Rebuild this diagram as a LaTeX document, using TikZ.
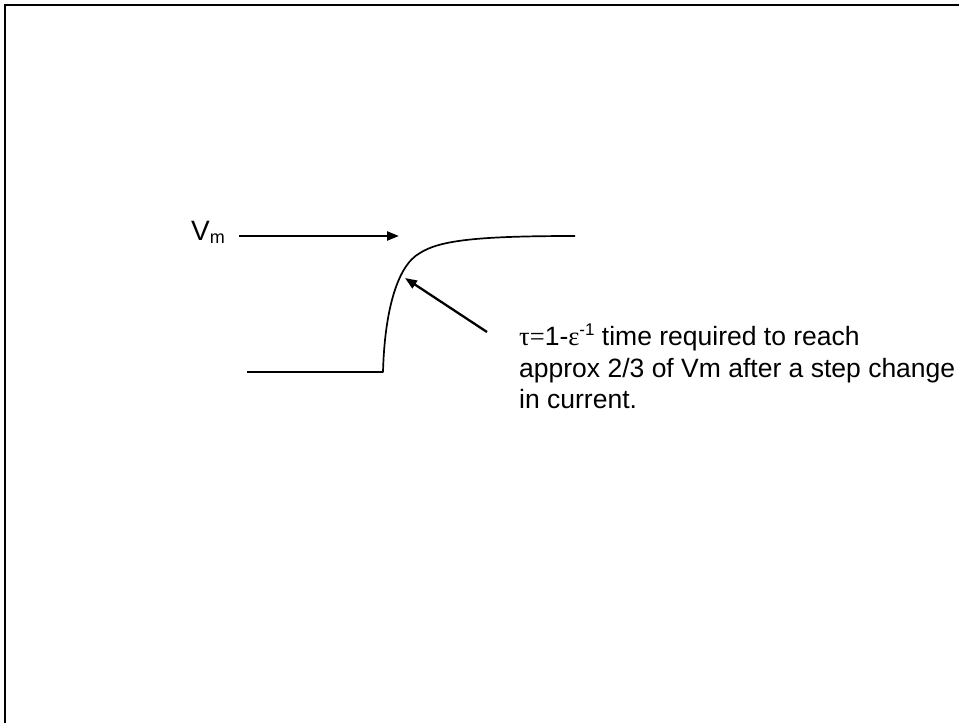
\documentclass[tikz,border=0pt]{standalone}
\usepackage{fontspec}
\setmainfont{Liberation Sans}
\newfontfamily\grk{Liberation Serif}
\usetikzlibrary{arrows.meta}
\newcommand{\smallsub}[1]{\raisebox{-3pt}{\fontsize{18}{18}\selectfont #1}}
\newcommand{\smallsup}[1]{\raisebox{10pt}{\fontsize{17}{17}\selectfont #1}}
\begin{document}
\begin{tikzpicture}[x=1pt,y=-1pt,
  lbl/.style={inner sep=0pt, font=\fontsize{26.5}{31.5}\selectfont},
  ptr/.style={line width=2.3pt, -{Triangle[length=12pt,width=9pt]}},
  trace/.style={line width=1.7pt, line join=round}]
\useasboundingbox (0,0) rectangle (959,723);
\draw[line width=2pt] (5,723) -- (5,5) -- (959,5);
\node[lbl, anchor=base west, font=\fontsize{28}{31.5}\selectfont] (vm) at (191,240) {V\smallsub{m}};
\coordinate (vmtail) at (239,236);
\coordinate (vmtip) at (399,236);
\draw[ptr] (vmtail) -- (vmtip);
\coordinate (lowstart) at (247,372);
\coordinate (stepfoot) at (383,372);
\coordinate (knee) at (420,253);
\coordinate (plateau) at (575,236);
\draw[trace] (lowstart) -- (stepfoot)
  .. controls (384.5,315) and (396,266) .. (knee)
  .. controls (440,240) and (480,236) .. (plateau);
\node[lbl, anchor=north west, align=left] (note) at (519,324) {{\grk τ=}1-{\grk ε}\smallsup{-1} time required to reach\\approx 2/3 of Vm after a step change\\in current.};
\coordinate (ptail) at (487,332);
\coordinate (ptip) at (405,278);
\draw[ptr] (ptail) -- (ptip);
\end{tikzpicture}
\end{document}
